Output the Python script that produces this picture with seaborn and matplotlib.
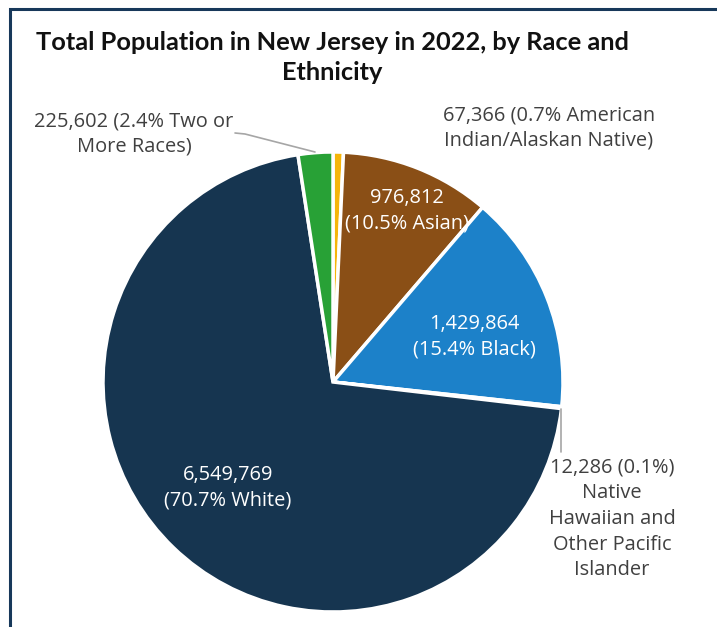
import matplotlib
matplotlib.use("Agg")
import matplotlib.pyplot as plt
import seaborn as sns

sns.set_theme(style="white")
plt.rcParams["font.family"] = ["Open Sans", "DejaVu Sans"]

# Population counts, New Jersey 2022 (clockwise from 12 o'clock)
groups = ["American Indian/Alaskan Native", "Asian", "Black",
          "Native Hawaiian and Other Pacific Islander", "White", "Two or More Races"]
population = [67366, 976812, 1429864, 12286, 6549769, 225602]
shares = [0.7, 10.5, 15.4, 0.1, 70.7, 2.4]
colors = ["#F5B50A", "#8A4F16", "#1C81C9", "#9E9E9E", "#163550", "#28A136"]

W, H = 717, 627
fig = plt.figure(figsize=(W / 100, H / 100), dpi=100)
fig.patch.set_facecolor("white")

# frame around the chart area
border = plt.Rectangle((10 / W, -0.05), 1.2, 1 - 9 / H + 0.05, transform=fig.transFigure,
                       fill=False, edgecolor="#17385A", linewidth=2.2)
fig.add_artist(border)

cx, cy, r = 333, 382, 230
ax = fig.add_axes([(cx - r) / W, 1 - (cy + r) / H, 2 * r / W, 2 * r / H])
wedges, _ = ax.pie(population, colors=colors, startangle=90, counterclock=False,
                   wedgeprops=dict(edgecolor="white", linewidth=2.5))
ax.set_xlim(-1, 1)
ax.set_ylim(-1, 1)
ax.set_axis_off()


def px(x, y):
    return ((x - cx) / r, (cy - y) / r)


fmt = lambda v: f"{v:,}"
dark = "#404040"
fs = 14.4
ls = 1.37

title_font = dict(ha="center", va="center", fontsize=18.3, fontweight="bold",
                  color="#111111", family=["Lato", "DejaVu Sans"])
fig.text(332 / W, 1 - 43 / H, "Total Population in New Jersey in 2022, by Race and", **title_font)
fig.text(332 / W, 1 - 73 / H, "Ethnicity", **title_font)

# inside labels
ax.text(*px(407, 211), f"{fmt(population[1])}\n({shares[1]}% {groups[1]})",
        ha="center", va="center", color="white", fontsize=fs, linespacing=ls)
ax.text(*px(474, 337), f"{fmt(population[2])}\n({shares[2]}% {groups[2]})",
        ha="center", va="center", color="white", fontsize=fs, linespacing=ls)
ax.text(*px(228, 488), f"{fmt(population[4])}\n({shares[4]}% {groups[4]})",
        ha="center", va="center", color="white", fontsize=fs, linespacing=ls)

# outside labels
ax.text(*px(549, 128), f"{fmt(population[0])} ({shares[0]}% American\nIndian/Alaskan Native)",
        ha="center", va="center", color=dark, fontsize=fs, linespacing=ls)
ax.text(*px(134, 134), f"{fmt(population[5])} ({shares[5]}% Two or\nMore Races)",
        ha="center", va="center", color=dark, fontsize=fs, linespacing=ls)
ax.text(*px(612, 519), f"{fmt(population[3])} ({shares[3]}%)\nNative\nHawaiian and\nOther Pacific\nIslander",
        ha="center", va="center", color=dark, fontsize=fs, linespacing=ls)

# leader lines
lx, ly = zip(px(235, 133), px(245, 134), px(315, 152))
ax.plot(lx, ly, color="#A6A6A6", linewidth=1.2, clip_on=False)
lx, ly = zip(px(561, 409), px(561, 452))
ax.plot(lx, ly, color="#A6A6A6", linewidth=1.2, clip_on=False)

fig.savefig("out.png", dpi=100, facecolor="white")
